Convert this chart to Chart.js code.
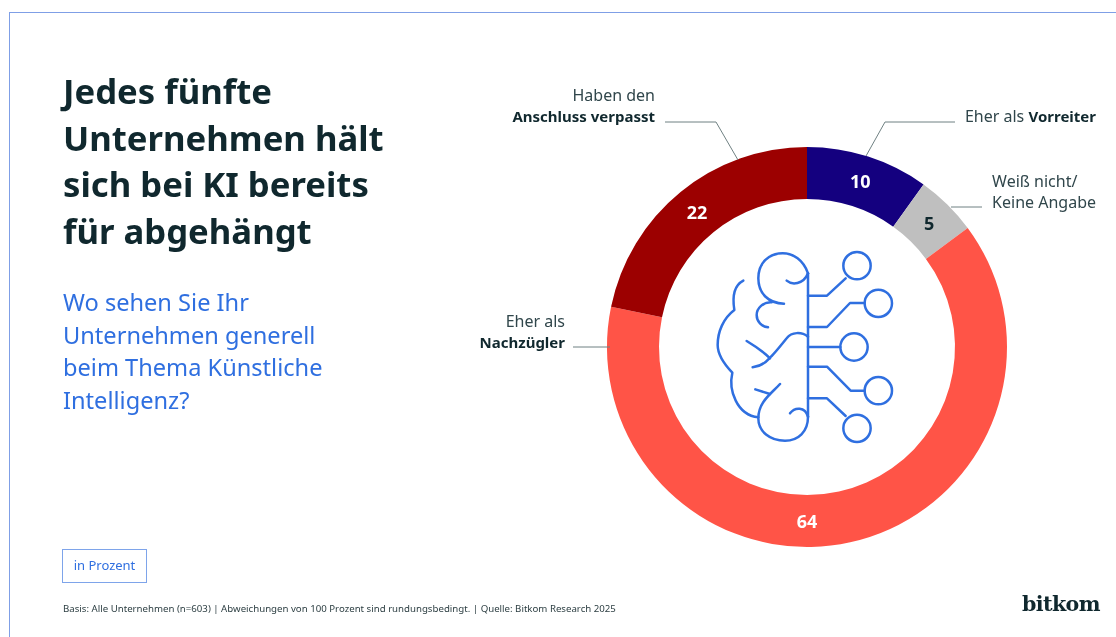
<!DOCTYPE html>
<html lang="de">
<head>
<meta charset="utf-8">
<script src="https://cdn.jsdelivr.net/npm/chart.js@4"></script>
<style>
html,body{margin:0;padding:0;background:#fff;width:1116px;height:637px;overflow:hidden;font-family:"Open Sans",sans-serif}
#frame{position:absolute;left:9px;top:12px;width:1107px;height:625px;border-left:1px solid #7f9fe6;border-top:1px solid #7f9fe6;box-sizing:border-box}
canvas{position:absolute;left:0;top:0}
.t{position:absolute;white-space:nowrap}
#title{left:63px;top:68px;font:700 34.7px/46.5px "Noto Sans",sans-serif;color:#10282e}
#sub{left:63px;top:286px;font:400 23.6px/32.7px "Noto Sans",sans-serif;color:#2f6fe0}
#unit{left:62px;top:549px;width:85px;height:34px;box-sizing:border-box;border:1px solid #7ea4ea;font:400 13px/31px "Noto Sans",sans-serif;color:#2f6fe0;text-align:center}
#foot{left:63px;top:602px;font:400 9.67px/14px "Noto Sans",sans-serif;color:#2c3e42}
#logo{left:1022px;top:588px;font:700 20.6px/32px "DejaVu Serif",serif;color:#10282e;letter-spacing:-.6px}
.l{font:400 16px/21px "Noto Sans",sans-serif;color:#30464b}
.l b{font-weight:700;font-size:15px;color:#10282e}
.r{text-align:right}
svg{position:absolute}
</style>
</head>
<body>
<div id="frame"></div>
<canvas id="c" width="1116" height="637"></canvas>
<svg style="left:0;top:0" width="1116" height="637" fill="none" stroke="#6f8082" stroke-width="1">
<path d="M665 122H716L738 160"/><path d="M955 122H885L866 156"/><path d="M951 207H982"/><path d="M573 347H610"/>
</svg>
<svg style="left:680px;top:230px" width="240" height="220" viewBox="0 0 720 660" fill="none" stroke="#2f6fe0" stroke-width="7.5" stroke-linecap="round" stroke-linejoin="round">
<path d="M384 130V560"/>
<path d="M384 130C370 90 340 70 308 70C265 70 235 100 235 145C235 190 265 220 312 221"/>
<path d="M320 152C335 165 370 165 384 130"/>
<path d="M275 217C250 215 230 235 230 255C230 275 245 290 264 292"/>
<path d="M190 152C165 165 155 190 163 240C130 265 113 305 113 345C113 375 135 405 157 428C145 480 170 555 235 562"/>
<path d="M384 320C365 305 335 305 320 325C300 350 280 375 268 385C255 400 235 410 218 412"/>
<path d="M200 333C225 348 250 365 270 385"/>
<path d="M300 462C275 490 235 515 235 565C235 605 270 632 315 632C355 632 384 605 384 560"/>
<path d="M226 478L270 492"/>
<path d="M330 550C345 530 375 530 384 560"/>
<path d="M384 197H441L497 145"/><circle cx="531" cy="107" r="41"/>
<path d="M384 291H441L510 219H553"/><circle cx="595" cy="220" r="41"/>
<path d="M384 351H481"/><circle cx="522" cy="351" r="41"/>
<path d="M384 410H441L512 482H553"/><circle cx="595" cy="482" r="41"/>
<path d="M384 505H441L497 558"/><circle cx="531" cy="595" r="41"/>
</svg>
<div class="t" id="title">Jedes fünfte<br>Unternehmen hält<br>sich bei KI bereits<br>für abgehängt</div>
<div class="t" id="sub">Wo sehen Sie Ihr<br>Unternehmen generell<br>beim Thema Künstliche<br>Intelligenz?</div>
<div class="t" id="unit">in Prozent</div>
<div class="t" id="foot">Basis: Alle Unternehmen (n=603) | Abweichungen von 100 Prozent sind rundungsbedingt. | Quelle: Bitkom Research 2025</div>
<div class="t" id="logo">bitkom</div>
<div class="t l r" style="right:461px;top:85px">Haben den<br><b>Anschluss verpasst</b></div>
<div class="t l" style="right:20px;top:106px">Eher als <b>Vorreiter</b></div>
<div class="t l" style="right:20px;top:171px">Weiß nicht/<br>Keine Angabe</div>
<div class="t l r" style="right:551px;top:311px">Eher als<br><b>Nachzügler</b></div>
<script>
const categories = ["Eher als Vorreiter", "Weiß nicht/Keine Angabe", "Eher als Nachzügler", "Haben den Anschluss verpasst"];
const values = [10, 5, 64, 22];
const sliceColors = ["#14007f", "#bfbfbf", "#ff5447", "#9c0000"];
const labelColors = ["#ffffff", "#10282e", "#ffffff", "#ffffff"];

const sliceLabels = {
  id: "sliceLabels",
  afterDatasetsDraw(chart) {
    const ctx = chart.ctx;
    ctx.save();
    ctx.font = '700 18px "Noto Sans", sans-serif';
    ctx.textAlign = "center";
    ctx.textBaseline = "middle";
    chart.getDatasetMeta(0).data.forEach((arc, i) => {
      let p = arc.tooltipPosition();
      // The largest slice carries its label at the bottom of the ring.
      if (values[i] === Math.max(...values)) {
        p = { x: arc.x, y: arc.y + (arc.innerRadius + arc.outerRadius) / 2 };
      }
      ctx.fillStyle = labelColors[i];
      ctx.fillText(String(values[i]), p.x, p.y + 2);
    });
    ctx.restore();
  }
};

new Chart(document.getElementById("c"), {
  type: "doughnut",
  data: {
    labels: categories,
    datasets: [{ data: values, backgroundColor: sliceColors, borderWidth: 0 }]
  },
  options: {
    responsive: false,
    animation: false,
    cutout: "74%",
    layout: { padding: { left: 607, right: 109, top: 147, bottom: 90 } },
    plugins: { legend: { display: false }, tooltip: { enabled: false } }
  },
  plugins: [sliceLabels]
});
</script>
</body>
</html>
